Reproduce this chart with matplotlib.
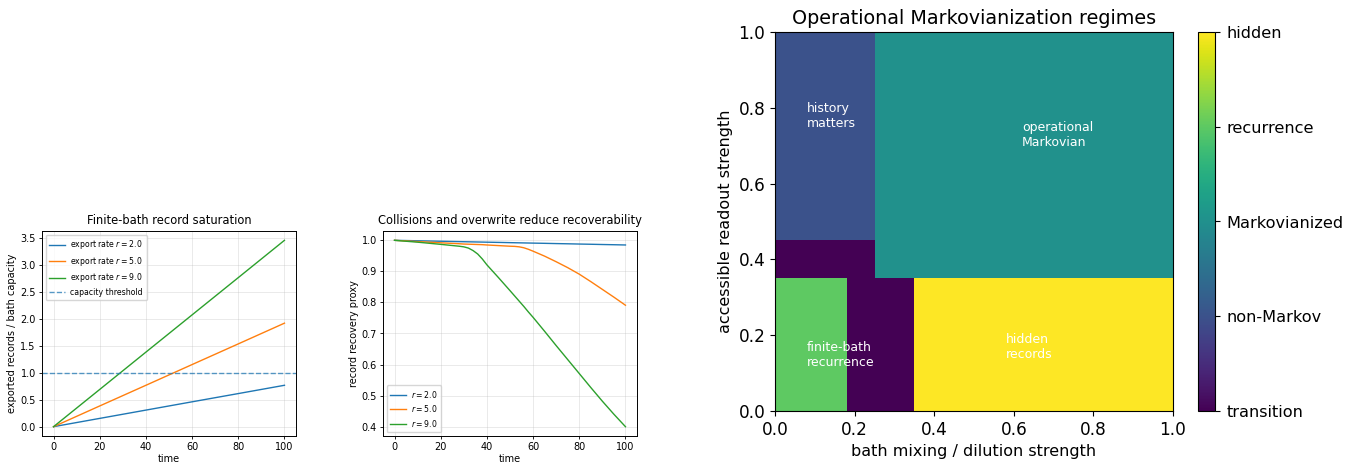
import matplotlib
matplotlib.use("Agg")
import matplotlib.pyplot as plt
import numpy as np

# ---------------- data ----------------
# Panel 1: exported records / bath capacity
t_sat = [0, 20, 40, 60, 80, 100]
sat_r2 = [0.0, 0.154, 0.308, 0.462, 0.615, 0.769]
sat_r5 = [0.0, 0.385, 0.769, 1.154, 1.538, 1.923]
sat_r9 = [0.0, 0.692, 1.385, 2.077, 2.769, 3.462]
rates = [2.0, 5.0, 9.0]
capacity_threshold = 1.0

# Panel 2: record recovery proxy
t_rec = [0, 10, 20, 28, 30, 32, 34, 36, 38, 40, 45, 50, 52, 54, 56, 58, 60,
         65, 70, 75, 80, 85, 90, 95, 100]
rec_r2 = [1.0, 0.9985, 0.997, 0.9958, 0.9955, 0.9952, 0.9949, 0.9946, 0.9943,
          0.994, 0.9933, 0.9925, 0.9922, 0.9919, 0.9916, 0.9913, 0.991,
          0.9903, 0.9895, 0.9888, 0.988, 0.9873, 0.9865, 0.9858, 0.985]
rec_r5 = [1.0, 0.996, 0.992, 0.989, 0.988, 0.9875, 0.987, 0.9865, 0.986,
          0.985, 0.983, 0.981, 0.9805, 0.979, 0.976, 0.971, 0.965,
          0.949, 0.931, 0.912, 0.891, 0.867, 0.842, 0.817, 0.791]
rec_r9 = [1.0, 0.994, 0.987, 0.981, 0.979, 0.975, 0.967, 0.956, 0.940,
          0.921, 0.880, 0.838, 0.821, 0.804, 0.787, 0.769, 0.752,
          0.707, 0.661, 0.616, 0.571, 0.526, 0.482, 0.440, 0.400]

# Panel 3: regime map
x_edges = [0.0, 0.18, 0.25, 0.35, 1.0]
y_edges = [0.0, 0.35, 0.45, 1.0]
regime = [[3, 0, 0, 4],
          [0, 0, 2, 2],
          [1, 1, 2, 2]]
regime_names = ["transition", "non-Markov", "Markovianized", "recurrence", "hidden"]
region_labels = ["history\nmatters", "operational\nMarkovian",
                 "finite-bath\nrecurrence", "hidden\nrecords"]
region_label_xy = [(0.08, 0.75), (0.62, 0.70), (0.08, 0.12), (0.58, 0.14)]

# ---------------- figure ----------------
W, H = 1368, 465
fig = plt.figure(figsize=(W / 100, H / 100), dpi=100)

def px_axes(x0, y0, x1, y1):
    return fig.add_axes([x0 / W, 1 - y1 / H, (x1 - x0) / W, (y1 - y0) / H])

small = 7.0
leg = 5.6
ax1 = px_axes(42, 231, 296, 436)
for r, vals in zip(rates, [sat_r2, sat_r5, sat_r9]):
    ax1.plot(t_sat, vals, lw=1.0, label=f"export rate $r={r}$")
ax1.axhline(capacity_threshold, ls="--", lw=1.0, color="C0", alpha=0.75,
            label="capacity threshold")
ax1.set_title("Finite-bath record saturation", fontsize=8.3, pad=5)
ax1.set_xlabel("time", fontsize=small, labelpad=1)
ax1.set_ylabel("exported records / bath capacity", fontsize=small, labelpad=2)
ax1.tick_params(labelsize=small, length=2.5, pad=2, width=0.6)
ax1.grid(True, alpha=0.3, lw=0.6)
ax1.legend(loc="upper left", fontsize=leg, handlelength=2.0, borderpad=0.45,
           labelspacing=0.45, handletextpad=0.7)

ax2 = px_axes(383, 231, 637, 436)
for r, vals in zip(rates, [rec_r2, rec_r5, rec_r9]):
    ax2.plot(t_rec, vals, lw=1.0, label=f"$r={r}$")
ax2.set_title("Collisions and overwrite reduce recoverability", fontsize=8.3, pad=5)
ax2.set_xlabel("time", fontsize=small, labelpad=1)
ax2.set_ylabel("record recovery proxy", fontsize=small, labelpad=2)
ax2.tick_params(labelsize=small, length=2.5, pad=2, width=0.6)
ax2.grid(True, alpha=0.3, lw=0.6)
ax2.legend(loc="lower left", fontsize=leg, handlelength=2.0, borderpad=0.45,
           labelspacing=0.45, handletextpad=0.7)
for ax in (ax1, ax2):
    for s in ax.spines.values():
        s.set_linewidth(0.7)

ax3 = px_axes(775, 32, 1173, 411)
mesh = ax3.pcolormesh(x_edges, y_edges, np.array(regime), cmap="viridis",
                      vmin=0, vmax=4, shading="flat")
ax3.set_xlim(0, 1)
ax3.set_ylim(0, 1)
for txt, (x, y) in zip(region_labels, region_label_xy):
    ax3.text(x, y, txt, color="white", fontsize=9)
ax3.set_title("Operational Markovianization regimes", fontsize=13.8)
ax3.set_xlabel("bath mixing / dilution strength", fontsize=11.5)
ax3.set_ylabel("accessible readout strength", fontsize=11.5)
ax3.tick_params(labelsize=12.2)

cax = px_axes(1198, 32, 1215, 411)
cb = fig.colorbar(mesh, cax=cax, ticks=[0, 1, 2, 3, 4])
cb.ax.set_yticklabels(regime_names)
cb.ax.tick_params(labelsize=11.6, pad=5)

fig.savefig("out.png", dpi=100)
